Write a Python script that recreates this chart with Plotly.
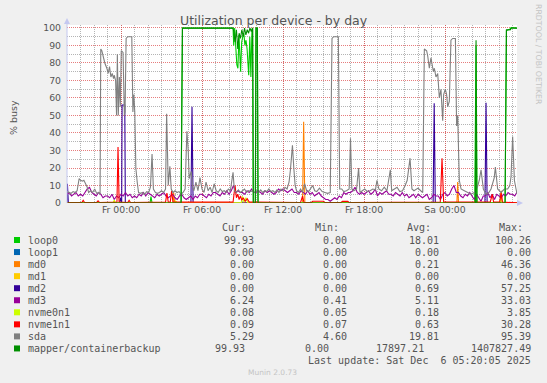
import plotly.graph_objects as go

# ---------------- data (hours relative to Fr 00:00) ----------------
tick_vals = [0, 6, 12, 18, 24]
tick_text = ["Fr 00:00", "Fr 06:00", "Fr 12:00", "Fr 18:00", "Sa 00:00"]

loop0_t = [-4, 2.15, 2.22, 2.30, 4.45, 4.55, 8.30, 8.35, 8.42, 8.50, 8.58, 8.66, 8.74, 8.86, 8.94,
           9.02, 9.10, 9.18, 9.26, 9.34, 9.40, 9.46, 9.54, 9.62, 9.70, 9.75, 9.80, 9.95, 10.00, 10.10,
           10.15, 26.20, 26.30, 26.38, 28.45, 28.55, 28.85, 28.90, 29.333]
loop0_v = [0, 0, 3.6, 0, 0, 99.9, 100, 90, 100, 84.6, 79, 77, 96, 75, 92,
           95, 97, 90, 93, 88, 77, 73, 95, 72, 99, 100, 0, 0, 100, 100,
           0, 0, 90, 0, 0, 98.5, 99.5, 100.26, 99.93]

loop1_t = [-4, 29.333]
loop1_v = [0, 0]

md0_t = [-4, 3.85, 3.90, 3.98, 13.45, 13.53, 13.62, 24.88, 24.94, 25.00, 28.10, 28.17, 28.25, 29.333]
md0_v = [0, 0, 6, 0, 0, 46.36, 0, 0, 12, 0, 0, 7, 0, 0]

md1_t = [-4, 29.333]
md1_v = [0, 0]

md2_t = [-4, -3.97, -3.90, -0.10, -0.05, 0.05, 0.08, 0.28, 0.32, 5.18, 5.26, 5.34,
         23.12, 23.20, 23.28, 26.96, 27.04, 27.12, 29.333]
md2_v = [0, 11, 0, 0, 3, 0, 56, 56, 0, 0, 55, 0,
         0, 57, 0, 0, 57.25, 0, 0]

# md3 sampled every 10 minutes starting at -4 h
md3_v = [5, 6, 4, 5, 6, 4,
         5, 4, 6, 8, 9, 6,
         5, 4, 6, 5, 3, 4,
         4, 3, 5, 2, 4, 3,
         5, 4, 6, 4, 5, 3,
         4, 3, 5, 4, 6, 4,
         6, 5, 4, 3, 5, 4,
         5, 6, 4, 3, 4, 5,
         3, 2, 4, 5, 3, 2,
         3, 4, 2, 4, 3, 5,
         5, 4, 3, 5, 4, 6,
         6, 5, 4, 6, 5, 7,
         5, 7, 10, 6, 7, 6,
         6, 5, 7, 6, 8, 6,
         6, 7, 6, 5, 7, 6,
         7, 6, 5, 6, 8, 7,
         8, 7, 6, 7, 8, 6,
         6, 5, 7, 6, 5, 7,
         5, 6, 4, 5, 6, 4,
         3, 2, 2, 1, 2, 3,
         2, 4, 3, 6, 5, 6,
         6, 7, 9, 6, 5, 6,
         5, 6, 7, 5, 6, 8,
         4, 6, 5, 6, 7, 5,
         5, 4, 6, 5, 4, 6,
         4, 5, 3, 4, 5, 3,
         5, 4, 3, 4, 5, 2,
         3, 5, 4, 4, 2, 5,
         6, 4, 5, 8, 10, 6,
         6, 4, 3, 5, 4, 6,
         4, 2, 5, 3, 1, 4,
         4, 6, 3, 5, 2, 5,
         4, 3, 5, 4, 6, 5,
         5, 4, 6.24]
md3_t = [-4 + i / 6 for i in range(len(md3_v))]

nvme0_t = [-4, -0.6, -0.5, -0.4, 3.95, 4.05, 4.15, 8.90, 9.00, 9.10, 9.25, 9.40, 28.0, 28.1, 28.2, 29.333]
nvme0_v = [0.05, 0.05, 1.5, 0.05, 0.05, 1.2, 0.05, 0.05, 3.85, 0.5, 3, 0.05, 0.05, 2, 0.05, 0.08]

nvme1_t = [-4, -2.9, -2.8, -2.7, -1.8, -1.7, -1.6, -0.30, -0.22, -0.14, 0.5, 0.6, 0.7,
           3.30, 3.40, 3.50, 3.65, 3.75, 3.85, 8.30, 8.45, 8.55, 8.65, 8.75, 8.85, 8.95,
           9.05, 9.20, 9.35, 9.50, 13.30, 13.45, 13.55, 14.1, 14.2, 15.0, 15.1,
           16.3, 16.4, 16.8, 16.9, 23.65, 23.78, 23.90, 27.35, 27.50, 27.60,
           28.05, 28.15, 28.25, 29.333]
nvme1_v = [0.3, 0.3, 1.5, 0.3, 0.3, 1.2, 0.3, 0.5, 32, 0.5, 0.3, 1.5, 0.3,
           0.5, 5.7, 0.5, 0.5, 7, 0.5, 0.5, 10, 3, 5, 2, 4, 1.5,
           3, 1, 2.5, 0.5, 0.3, 4, 0.3, 0.3, 1, 1, 0.3,
           0.3, 0.9, 0.9, 0.3, 0.5, 25.5, 0.5, 0.5, 5, 0.5,
           0.5, 6, 0.5, 0.09]

sda_t = [-4.00, -3.85, -3.70, -3.55, -3.40, -3.25, -3.10, -3.00, -2.85, -2.75, -2.60, -2.50, -2.40,
         -2.25, -2.10, -1.95, -1.80, -1.65, -1.55, -1.50, -1.42, -1.30, -1.20, -1.05, -0.95, -0.85,
         -0.75, -0.65, -0.55, -0.50, -0.40, -0.33, -0.27, -0.20, -0.12, -0.05, 0.02, 0.15, 0.25,
         0.30, 0.38, 0.50, 0.70, 0.80, 0.88, 0.95, 1.02, 1.10, 1.20, 1.30, 1.45, 1.60, 1.75, 1.90,
         2.05, 2.18, 2.30, 2.40, 2.55, 2.70, 2.85, 3.00, 3.15, 3.30, 3.38, 3.50, 3.62, 3.72, 3.85,
         4.00, 4.15, 4.30, 4.45, 4.60, 4.75, 4.88, 4.98, 5.05, 5.20, 5.30, 5.40, 5.55, 5.70, 5.85,
         6.00, 6.15, 6.30, 6.45, 6.60, 6.75, 6.90, 7.05, 7.20, 7.35, 7.50, 7.65, 7.80, 7.95, 8.10,
         8.30, 8.40, 8.55, 8.70, 8.85, 9.00, 9.15, 9.30, 9.45, 9.60, 9.75, 9.90, 10.05, 10.20, 10.35,
         10.50, 10.65, 10.80, 10.95, 11.10, 11.25, 11.40, 11.55, 11.70, 11.85, 12.00, 12.15, 12.30,
         12.45, 12.55, 12.70, 12.80, 12.90, 13.00, 13.15, 13.30, 13.45, 13.60, 13.75, 13.90, 14.05,
         14.20, 14.35, 14.50, 14.70, 14.90, 15.10, 15.30, 15.50, 15.63, 15.75, 15.95, 16.10, 16.20,
         16.35, 16.50, 16.70, 16.90, 17.00, 17.10, 17.25, 17.45, 17.60, 17.70, 17.85, 18.05, 18.25,
         18.45, 18.65, 18.85, 18.96, 19.10, 19.30, 19.50, 19.70, 19.95, 20.05, 20.25, 20.45, 20.65,
         20.85, 21.05, 21.20, 21.41, 21.55, 21.70, 21.85, 22.00, 22.20, 22.35, 22.47, 22.64, 22.72,
         22.84, 22.96, 23.04, 23.14, 23.21, 23.33, 23.46, 23.58, 23.70, 23.83, 23.90, 24.02, 24.12,
         24.20, 24.32, 24.44, 24.57, 24.77, 24.86, 24.94, 25.06, 25.19, 25.43, 25.68, 25.93, 26.17,
         26.40, 26.54, 26.67, 26.84, 27.04, 27.25, 27.41, 27.65, 27.73, 27.90, 28.15, 28.40, 28.64,
         28.80, 28.89, 29.01, 29.14, 29.26, 29.333]
sda_v = [6.5, 6, 5.5, 6.5, 6, 7, 14, 13, 12.5, 13, 11, 9, 6,
         7, 6, 8, 5.5, 6, 5, 88, 87, 82, 80, 77, 74, 78,
         72, 74, 71, 73, 70, 50, 85, 50, 72, 55, 87, 86, 50,
         52, 94, 95, 95, 95, 52, 62, 52, 20, 12, 6, 5.5, 6, 5, 6.5,
         6, 9, 28, 8, 6, 5.5, 6, 7, 6, 8, 51, 10, 21, 8, 6,
         7, 6, 6.5, 5, 6, 8, 41, 30, 14, 18, 9, 7, 12, 7, 14.5,
         8, 6, 12, 7, 9, 6, 11, 7, 6, 8, 6.5, 7, 6, 8, 7,
         17.5, 7, 6, 7.5, 6, 7, 8, 6, 7, 6.5, 7, 6, 7, 6, 7.5,
         6, 7, 6.5, 8, 6.5, 7, 6, 7.5, 6, 8, 7, 9, 8,
         12, 19, 33, 20, 10, 7, 6, 8, 6, 11, 7, 6.5, 8,
         10, 7, 6.5, 8.5, 6.5, 6, 5.5, 6, 94, 95, 95, 95, 8,
         8, 6.5, 7, 8, 37, 8, 7, 8, 20, 6, 7, 8, 6.5,
         7, 8, 7.5, 13, 8, 7, 9, 7, 19, 7, 8, 9, 6.5,
         7, 10, 13, 25.6, 8, 7, 8, 8.5, 7, 6, 88, 87, 84,
         77, 83, 79, 75, 77, 72, 74, 60, 65, 47, 62, 65, 62,
         55, 58, 93, 94, 94, 44, 50, 13, 8, 7, 6, 5, 6,
         9, 13, 19, 8, 5, 6, 8, 14.5, 20.6, 8, 6, 8, 8,
         10, 15, 38, 13, 8, 5.29]

mapper_t = [-4, 4.45, 4.55, 8.30, 8.35, 8.45, 8.55, 8.65, 8.75, 8.85, 8.95, 9.05, 9.15, 9.25, 9.35,
            9.45, 9.55, 9.65, 9.75, 9.80, 9.95, 10.00, 10.10, 10.15, 26.25, 26.30, 26.35, 28.45,
            28.55, 28.85, 28.90, 29.333]
mapper_v = [0, 0, 99.9, 100, 98, 92, 99, 88, 97, 94, 99, 95, 100, 96, 99,
            97, 100, 98, 100, 0, 0, 100, 100, 0, 0, 93, 0, 0,
            98.9, 99, 100, 99.93]

series = [
    ("loop0", "#00CC00", loop0_t, loop0_v),
    ("loop1", "#0066B3", loop1_t, loop1_v),
    ("md0", "#FF8000", md0_t, md0_v),
    ("md1", "#FFCC00", md1_t, md1_v),
    ("md2", "#330099", md2_t, md2_v),
    ("md3", "#990099", md3_t, md3_v),
    ("nvme0n1", "#CCFF00", nvme0_t, nvme0_v),
    ("nvme1n1", "#FF0000", nvme1_t, nvme1_v),
    ("sda", "#808080", sda_t, sda_v),
    ("mapper/containerbackup", "#008F00", mapper_t, mapper_v),
]

leg_cur = ["99.93", "0.00", "0.00", "0.00", "0.00", "6.24", "0.08", "0.09", "5.29", "99.93"]
leg_min = ["0.00", "0.00", "0.00", "0.00", "0.00", "0.41", "0.05", "0.07", "4.60", "0.00"]
leg_avg = ["18.01", "0.00", "0.21", "0.00", "0.69", "5.11", "0.18", "0.63", "19.81", "17897.21"]
leg_max = ["100.26", "0.00", "46.36", "0.00", "57.25", "33.03", "3.85", "30.28", "95.39", "1407827.49"]

# ---------------- layout helpers ----------------
W, H = 547, 383
L, R, T, B = 67, 517, 25, 203
YMAX = 101.7
X0, X1 = -4.0, 29.333


def pxx(x):
    return (x - L) / (R - L)


def pxy(y):
    return (B - y) / (B - T)


fig = go.Figure()
for name, col, t, v in series:
    fig.add_trace(go.Scatter(x=t, y=v, mode="lines", name=name,
                             line=dict(color=col, width=1.1),
                             hoverinfo="skip", showlegend=False))

MAJ = "rgba(220,70,70,0.7)"
MIN = "rgba(130,130,130,0.6)"
TXT = "#555555"

fig.update_layout(
    width=W, height=H,
    margin=dict(l=L, r=W - R, t=T, b=H - B, pad=0),
    paper_bgcolor="#F0F0F0", plot_bgcolor="#FFFFFF",
    font=dict(family="DejaVu Sans", color=TXT),
    showlegend=False,
)
fig.update_xaxes(range=[X0, X1], tickmode="array", tickvals=tick_vals, ticktext=tick_text,
                 showgrid=True, gridcolor=MAJ, griddash="1px,1px", gridwidth=1,
                 zeroline=False, showline=False, ticks="",
                 tickfont=dict(size=9.3, color=TXT, family="DejaVu Sans"),
                 minor=dict(tickmode="linear", tick0=0, dtick=1, showgrid=True,
                            gridcolor=MIN, griddash="1px,1px", gridwidth=1))
fig.update_yaxes(range=[0, YMAX], tickmode="linear", tick0=0, dtick=10,
                 showgrid=True, gridcolor=MAJ, griddash="1px,1px", gridwidth=1,
                 zeroline=False, showline=False, ticks="", ticklabelstandoff=5,
                 tickfont=dict(size=9.3, color=TXT, family="DejaVu Sans"),
                 minor=dict(tickmode="linear", tick0=0, dtick=5, showgrid=True,
                            gridcolor=MIN, griddash="1px,1px", gridwidth=1))

shapes = []
AX = "#C4C8F0"
# y axis line and arrow
shapes.append(dict(type="line", xref="paper", yref="paper", x0=pxx(67), x1=pxx(67),
                   y0=pxy(203), y1=pxy(24), line=dict(color=AX, width=1)))
shapes.append(dict(type="path", xref="paper", yref="paper",
                   path=f"M {pxx(64)} {pxy(24)} L {pxx(70)} {pxy(24)} L {pxx(67)} {pxy(18)} Z",
                   fillcolor=AX, line=dict(color=AX, width=0)))
# x axis arrow
shapes.append(dict(type="path", xref="paper", yref="paper",
                   path=f"M {pxx(517)} {pxy(200)} L {pxx(517)} {pxy(206)} L {pxx(523)} {pxy(203)} Z",
                   fillcolor=AX, line=dict(color=AX, width=0)))

ann = []
ann.append(dict(text="Utilization per device - by day", x=pxx(274), y=pxy(20), xref="paper", yref="paper",
                showarrow=False, xanchor="center", yanchor="middle",
                font=dict(family="DejaVu Sans", size=12.5, color=TXT)))
ann.append(dict(text="% busy", x=pxx(13), y=pxy(118), xref="paper", yref="paper", textangle=-90,
                showarrow=False, xanchor="center", yanchor="middle",
                font=dict(family="DejaVu Sans", size=9.5, color=TXT)))
ann.append(dict(text="RRDTOOL / TOBI OETIKER", x=pxx(538), y=pxy(54), xref="paper", yref="paper", textangle=90,
                showarrow=False, xanchor="center", yanchor="middle",
                font=dict(family="DejaVu Sans", size=7.8, color="#C4C4C4")))

MONO = "DejaVu Sans Mono"
hdr_y = 227.3
for label, lx in [("Cur:", 220), ("Min:", 312.7), ("Avg:", 405), ("Max:", 496.7)]:
    ann.append(dict(text=label, x=pxx(lx), y=pxy(hdr_y), xref="paper", yref="paper", showarrow=False,
                    xanchor="left", yanchor="middle", font=dict(family=MONO, size=10, color=TXT)))

for i, (name, col, _, _) in enumerate(series):
    ry = 240 + i * 12.05
    shapes.append(dict(type="rect", xref="paper", yref="paper", x0=pxx(14), x1=pxx(20),
                       y0=pxy(ry - 3), y1=pxy(ry + 3), fillcolor=col, line=dict(width=0)))
    ann.append(dict(text=name, x=pxx(26), y=pxy(ry), xref="paper", yref="paper", showarrow=False,
                    xanchor="left", yanchor="middle", font=dict(family=MONO, size=10, color=TXT)))
    edges = [256, 349, 441, 533] if i < 9 else [247, 331, 426, 533]
    for val, ex in zip([leg_cur[i], leg_min[i], leg_avg[i], leg_max[i]], edges):
        ann.append(dict(text=val, x=pxx(ex), y=pxy(ry), xref="paper", yref="paper", showarrow=False,
                        xanchor="right", yanchor="middle", font=dict(family=MONO, size=10, color=TXT)))

ann.append(dict(text="Last update: Sat Dec \u00a06 05:20:05 2025", x=pxx(533), y=pxy(360.3),
                xref="paper", yref="paper", showarrow=False, xanchor="right", yanchor="middle",
                font=dict(family=MONO, size=10, color=TXT)))
ann.append(dict(text="Munin 2.0.73", x=pxx(272.5), y=pxy(372), xref="paper", yref="paper", showarrow=False,
                xanchor="center", yanchor="middle", font=dict(family="DejaVu Sans", size=7.5, color="#C4C4C4")))

fig.update_layout(shapes=shapes, annotations=ann)
fig.write_html("out.html")
